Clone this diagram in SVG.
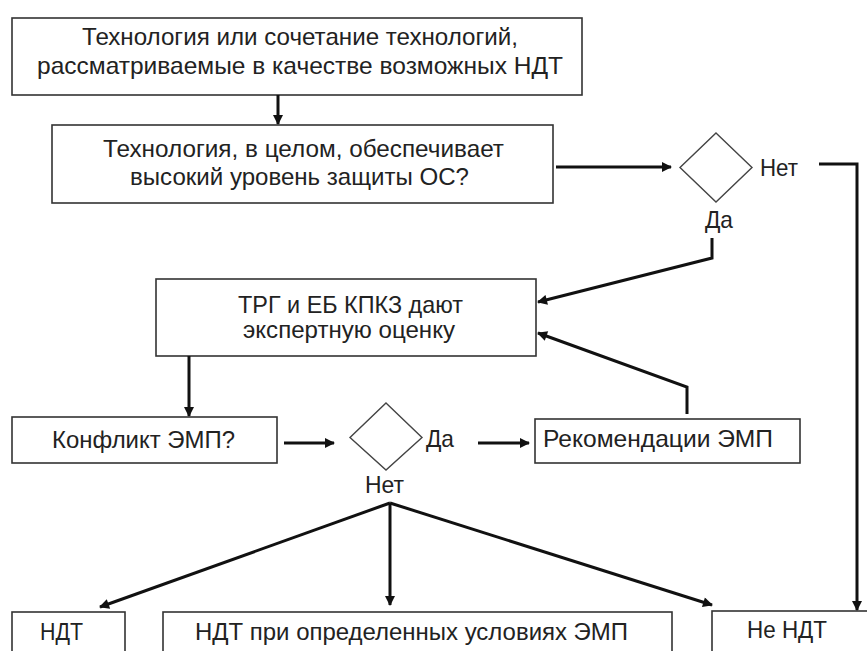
<svg xmlns="http://www.w3.org/2000/svg" width="867" height="651" viewBox="0 0 867 651">
<style>
.box{fill:#fff;stroke:#333;stroke-width:1.6}
.dia{fill:#fff;stroke:#444;stroke-width:1.4}
.t{font-family:"Liberation Sans",Arial,sans-serif;font-size:24px;fill:#222}
.c{fill:none;stroke:#111;stroke-width:3;stroke-linejoin:miter}
</style>
<defs>
<marker id="ah" viewBox="0 0 10 10" refX="9" refY="5" markerWidth="11" markerHeight="10" markerUnits="userSpaceOnUse" orient="auto">
<path d="M0,0 L10,5 L0,10 z" fill="#111"/>
</marker>
</defs>
<rect width="867" height="651" fill="#fff"/>
<g id="n1">
<rect class="box" x="12" y="18" width="570" height="77"/>
<text class="t" x="82" y="45" textLength="436" lengthAdjust="spacingAndGlyphs">Технология или сочетание технологий,</text>
<text class="t" x="37" y="74" textLength="526" lengthAdjust="spacingAndGlyphs">рассматриваемые в качестве возможных НДТ</text>
</g>
<g id="n2">
<rect class="box" x="52" y="125" width="501" height="78"/>
<text class="t" x="103" y="157" textLength="401" lengthAdjust="spacingAndGlyphs">Технология, в целом, обеспечивает</text>
<text class="t" x="130" y="185" textLength="339" lengthAdjust="spacingAndGlyphs">высокий уровень защиты ОС?</text>
</g>
<g id="d1">
<polygon class="dia" points="716,133 752,167.5 716,202 680,167.5"/>
<text class="t" x="760" y="176" textLength="38" lengthAdjust="spacingAndGlyphs">Нет</text>
<text class="t" x="705" y="228" textLength="28" lengthAdjust="spacingAndGlyphs">Да</text>
</g>
<g id="n3">
<rect class="box" x="156" y="279" width="380" height="77"/>
<text class="t" x="238" y="313" textLength="225" lengthAdjust="spacingAndGlyphs">ТРГ и ЕБ КПКЗ дают</text>
<text class="t" x="243" y="338" textLength="212" lengthAdjust="spacingAndGlyphs">экспертную оценку</text>
</g>
<g id="n4">
<rect class="box" x="12" y="417" width="265" height="46"/>
<text class="t" x="52" y="448" textLength="183" lengthAdjust="spacingAndGlyphs">Конфликт ЭМП?</text>
</g>
<g id="d2">
<polygon class="dia" points="386,403 422,437.5 386,470 350,437.5"/>
<text class="t" x="426" y="447" textLength="28" lengthAdjust="spacingAndGlyphs">Да</text>
<text class="t" x="365" y="493" textLength="39" lengthAdjust="spacingAndGlyphs">Нет</text>
</g>
<g id="n5">
<rect class="box" x="535" y="419" width="265" height="44"/>
<text class="t" x="543" y="447" textLength="230" lengthAdjust="spacingAndGlyphs">Рекомендации ЭМП</text>
</g>
<g id="n6">
<rect class="box" x="12" y="612" width="113" height="60"/>
<text class="t" x="40" y="640" textLength="43" lengthAdjust="spacingAndGlyphs">НДТ</text>
</g>
<g id="n7">
<rect class="box" x="163" y="612" width="509" height="60"/>
<text class="t" x="195" y="640" textLength="433" lengthAdjust="spacingAndGlyphs">НДТ при определенных условиях ЭМП</text>
</g>
<g id="n8">
<rect class="box" x="712" y="611" width="170" height="60"/>
<text class="t" x="747" y="638" textLength="80" lengthAdjust="spacingAndGlyphs">Не НДТ</text>
</g>
<g id="connectors">
<path class="c" d="M278,95 L278,124" marker-end="url(#ah)"/>
<path class="c" d="M556,167 L671,167" marker-end="url(#ah)"/>
<path class="c" d="M819,164 L857,164 L857,610" marker-end="url(#ah)"/>
<path class="c" d="M712,238 L712,258 L538,302" marker-end="url(#ah)"/>
<path class="c" d="M687,414 L687,387 L538,333" marker-end="url(#ah)"/>
<path class="c" d="M189,356 L189,416" marker-end="url(#ah)"/>
<path class="c" d="M284,443 L334,443" marker-end="url(#ah)"/>
<path class="c" d="M478,443 L529,443" marker-end="url(#ah)"/>
<path class="c" d="M390,503 L100,607" marker-end="url(#ah)"/>
<path class="c" d="M390,503 L390,605" marker-end="url(#ah)"/>
<path class="c" d="M390,503 L712,605" marker-end="url(#ah)"/>
</g>
</svg>
